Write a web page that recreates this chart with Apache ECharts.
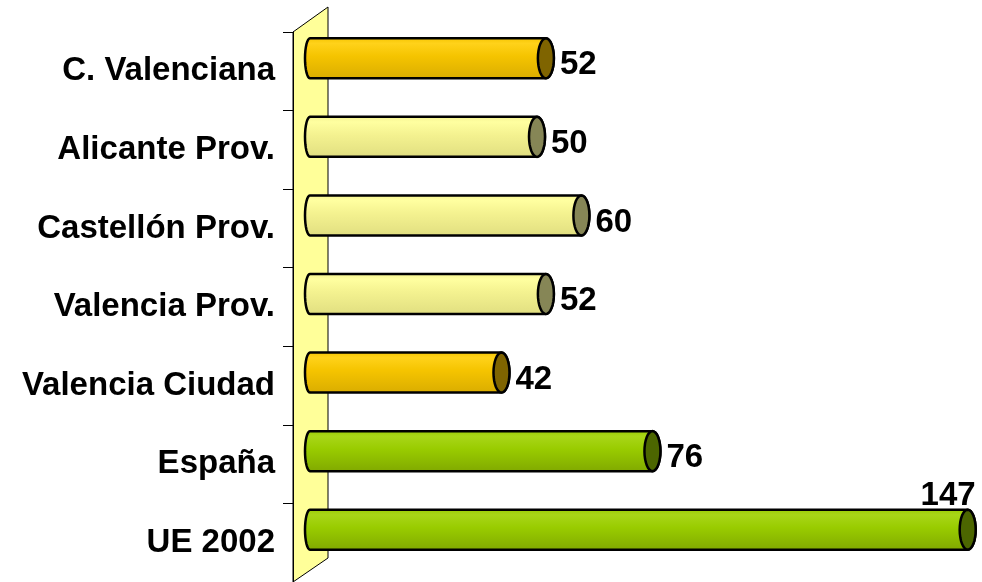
<!DOCTYPE html>
<html>
<head>
<meta charset="utf-8">
<script src="https://cdn.jsdelivr.net/npm/echarts@6/dist/echarts.min.js"></script>
<style>
  html, body { margin: 0; padding: 0; background: #fff; }
  #main { width: 982px; height: 582px; }
</style>
</head>
<body>
<div id="main"></div>
<script>
// datos
var categories = ['C. Valenciana', 'Alicante Prov.', 'Castellón Prov.', 'Valencia Prov.', 'Valencia Ciudad', 'España', 'UE 2002'];
var values = [52, 50, 60, 52, 42, 76, 147];
var groups = ['naranja', 'claro', 'claro', 'claro', 'naranja', 'verde', 'verde'];

// colores por grupo
var palette = {
  naranja: { top: '#FFD21A', mid: '#F5C400', bottom: '#D9AC00', cap: '#7F6400' },
  claro:   { top: '#FFFFA0', mid: '#F4F290', bottom: '#E0DE80', cap: '#868656' },
  verde:   { top: '#A8D618', mid: '#99CC00', bottom: '#80A800', cap: '#4C6600' }
};

function ellipsePts(cx, cy, rx, ry, a0, a1, n) {
  var pts = [];
  for (var i = 0; i <= n; i++) {
    var a = a0 + (a1 - a0) * i / n;
    pts.push([cx + rx * Math.cos(a), cy + ry * Math.sin(a)]);
  }
  return pts;
}

var chart = echarts.init(document.getElementById('main'));

var option = {
  animation: false,
  grid: { left: 316, top: 32, width: 669, height: 550 },
  xAxis: { type: 'value', min: 0, max: 150, show: false },
  yAxis: {
    type: 'category',
    data: categories,
    inverse: true,
    offset: 23,
    z: 10,
    axisLine: { show: true, onZero: false, lineStyle: { color: '#000', width: 1 } },
    axisTick: { show: true, length: 10, lineStyle: { color: '#000' } },
    axisLabel: {
      margin: 18,
      color: '#000',
      fontFamily: 'Liberation Sans, Arial, sans-serif',
      fontWeight: 'bold',
      fontSize: 33
    },
    splitLine: { show: false }
  },
  series: [
    {
      // pared amarilla
      type: 'custom',
      z: 1,
      data: [[0, 0]],
      renderItem: function (params, api) {
        var cs = params.coordSys;
        var l = cs.x - 23, r = cs.x + 12;
        return {
          type: 'polygon',
          shape: { points: [[l, cs.y], [r, cs.y - 25], [r, cs.y + cs.height - 24], [l, cs.y + cs.height]] },
          style: { fill: '#FFFF99', stroke: '#000', lineWidth: 1 }
        };
      }
    },
    {
      type: 'custom',
      z: 3,
      data: values.map(function (v, i) { return [v, i]; }),
      encode: { x: 0, y: 1 },
      renderItem: function (params, api) {
        var cs = params.coordSys;
        var v = api.value(0), idx = api.value(1);
        var end = api.coord([v, idx]);
        var start = api.coord([0, idx]);
        var c = palette[groups[idx]];
        var cy = end[1] - 13;
        var ry = 20, rxR = 8, rxL = 5;
        var x0 = start[0] - 6, xe = end[0] - 1;
        var pts = [[x0, cy - ry], [xe, cy - ry]]
          .concat(ellipsePts(xe, cy, rxR, ry, -Math.PI / 2, Math.PI / 2, 16))
          .concat([[xe, cy + ry], [x0, cy + ry]])
          .concat(ellipsePts(x0, cy, rxL, ry, Math.PI / 2, Math.PI * 1.5, 16));
        var children = [
          {
            type: 'polygon',
            shape: { points: pts },
            style: {
              fill: {
                type: 'linear', x: 0, y: 0, x2: 0, y2: 1,
                colorStops: [
                  { offset: 0, color: c.mid },
                  { offset: 0.15, color: c.top },
                  { offset: 0.45, color: c.mid },
                  { offset: 1, color: c.bottom }
                ]
              },
              stroke: '#000', lineWidth: 2.5
            }
          },
          {
            type: 'polygon',
            shape: { points: ellipsePts(xe, cy, rxR, ry, 0, Math.PI * 2, 32) },
            style: { fill: c.cap, stroke: '#000', lineWidth: 2.5 }
          }
        ];
        var lbl = { text: String(v), fill: '#000', font: 'bold 33px "Liberation Sans", Arial, sans-serif', verticalAlign: 'middle' };
        if (xe + rxR + 60 > cs.x + cs.width) {
          lbl.x = xe + rxR;
          lbl.y = cy - ry - 14;
          lbl.align = 'right';
        } else {
          lbl.x = xe + rxR + 6;
          lbl.y = cy + 7;
          lbl.align = 'left';
        }
        children.push({ type: 'text', style: lbl });
        return { type: 'group', children: children };
      }
    }
  ]
};

chart.setOption(option);
</script>
</body>
</html>
